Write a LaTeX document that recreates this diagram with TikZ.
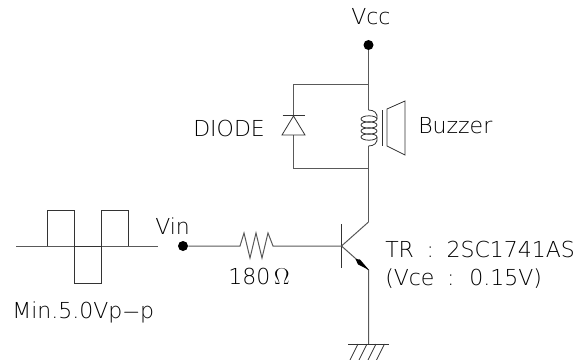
\documentclass[tikz,border=0pt]{standalone}
\usepackage{fontspec}
\setmainfont[WordSpace=1.8]{DejaVu Sans ExtraLight}
\tikzset{
  wire/.style={draw=black!65,line width=0.75pt},
  thinwire/.style={draw=black!80,line width=0.6pt},
  dotnode/.style={circle,fill=black,inner sep=0pt,minimum size=7.5pt},
  lbl/.style={inner sep=0.75pt,text=black,font=\fontsize{16.5}{18}\selectfont},
}
\begin{document}
\begin{tikzpicture}[x=0.75pt,y=0.75pt,yscale=-1,xscale=1]
    \useasboundingbox (0,0) rectangle (578,360);

    % Terminals
    \node [dotnode] (vcc) at (368.5,45) {};
    \node [dotnode] (vin) at (183,246) {};
    \coordinate (railtop) at (368.5,85);
    \coordinate (railbot) at (368.5,168);
    \coordinate (dtop) at (293.5,85);
    \coordinate (dbot) at (293.5,168);
    \coordinate (cola) at (368.5,222);
    \coordinate (emit) at (368.5,270);
    \coordinate (gnd) at (368.5,344);
    \coordinate (basept) at (341.5,246);
    \coordinate (resl) at (240,246);
    \coordinate (resr) at (273,246);

    % Supply rail
    \draw [wire] (vcc) -- (railtop) -- (368.5,110);
    \draw [wire] (368.5,146) -- (railbot);
    \draw [wire] (railtop) -- (dtop) -- (293.5,116);
    \draw [wire] (293.5,135) -- (dbot) -- (railbot);
    \draw [wire] (railbot) -- (cola);

    % Diode
    \draw [thinwire] (282.5,115) -- (304.5,115);
    \draw [thinwire] (293.5,116) -- (282,135) -- (305,135) -- cycle;

    % Coil
    \foreach \cy in {119,125,131,137} {
      \draw [thinwire] (369,\cy) ellipse [x radius=8,y radius=3.2];
    }
    \draw [thinwire] (368.5,110) .. controls (374,110) and (378,113) .. (377,119);
    \draw [thinwire] (377,137) .. controls (378,143) and (374,146) .. (368.5,146);

    % Speaker
    \draw [thinwire] (382,110) -- (382,146);
    \draw [thinwire] (387,109) -- (405,101) -- (405,155) -- (387,146) -- cycle;

    % Input
    \draw [wire] (vin) -- (resl) -- (244,233) -- (250,258) -- (256,233) -- (262,258) -- (268,233) -- (resr) -- (basept);

    % Transistor
    \draw [thinwire] (341.5,224) -- (341.5,268);
    \draw [wire] (basept) -- (cola);
    \draw [wire] (basept) -- (emit) -- (gnd);
    \fill [black] (369,270) -- (358,264.5) -- (355.5,259) -- (360,259.5) -- cycle;

    % Ground
    \draw [thinwire] (348,344) -- (389,344);
    \foreach \hx in {358,367,376,384.5} {
      \draw [thinwire] (\hx,344) -- (\hx-8,360);
    }

    % Waveform
    \draw [wire] (16,246) -- (158,246);
    \draw [thinwire] (47,246) -- (47,210) -- (74,210) -- (74,283.5) -- (101,283.5) -- (101,210) -- (128,210) -- (128,246);
    \draw [thinwire] (74,246) -- (101,246);

    % Text Node
    \node [lbl,anchor=west] (vcclbl) at (350,17) {Vcc};
    \node [lbl,anchor=west] (diodelbl) at (192,128) {DIODE};
    \node [lbl,anchor=west] (buzzlbl) at (417,126) {Buzzer};
    \node [lbl,anchor=west] (vinlbl) at (154,226) {Vin};
    \node [lbl,anchor=west] (rlbl) at (227,276) {180$\,\Omega$};
    \node [lbl,anchor=west] (wavelbl) at (11,312) {Min.5.0Vp$-$p};
    \node [lbl,anchor=west] (trlbl) at (384,249) {TR : 2SC1741AS};
    \node [lbl,anchor=west] (vcelbl) at (384,279) {(Vce : 0.15V)};
\end{tikzpicture}
\end{document}
